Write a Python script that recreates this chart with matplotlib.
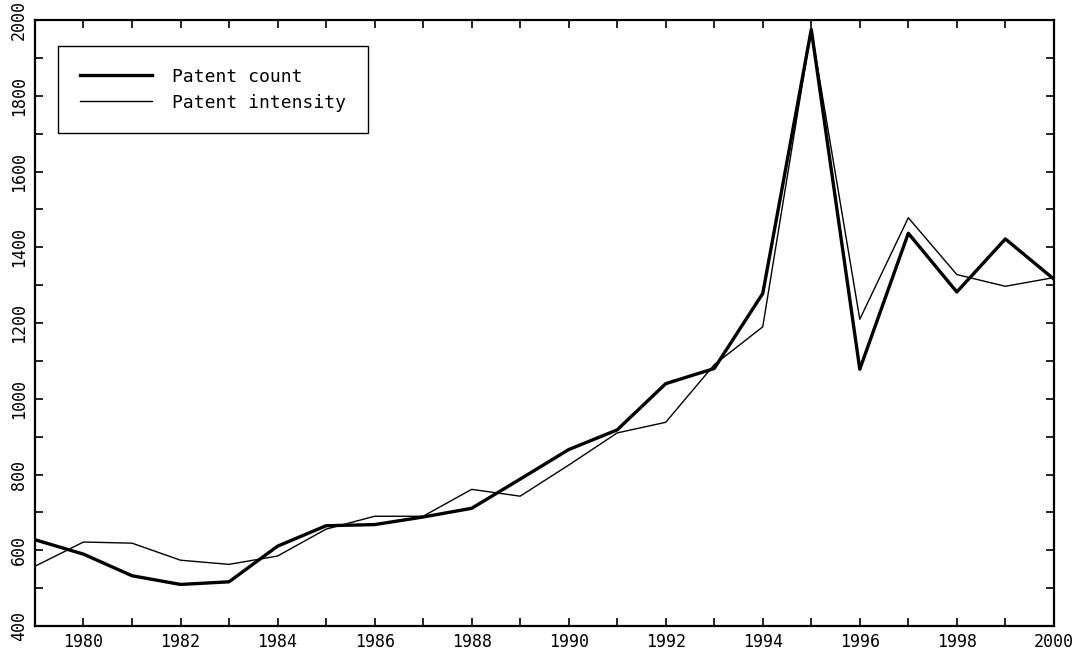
import matplotlib
matplotlib.use("Agg")
import matplotlib.pyplot as plt
from matplotlib.ticker import MultipleLocator

years = list(range(1979, 2001))
patent_count = [628, 590, 533, 510, 517, 611, 665, 668, 688, 711, 788, 866, 918, 1040,
                1080, 1278, 1975, 1078, 1437, 1282, 1422, 1316]
patent_intensity = [558, 622, 619, 574, 563, 585, 656, 690, 690, 761, 743, 825, 910, 938,
                    1090, 1190, 1975, 1210, 1478, 1328, 1297, 1320]

plt.rcParams["font.family"] = ["DejaVu Sans Mono"]

fig = plt.figure(figsize=(10.82, 6.57), dpi=100)
ax = fig.add_axes([0.0323, 0.047, 0.9417, 0.9226])

ax.plot(years, patent_count, color="black", linewidth=2.4, label="Patent count")
ax.plot(years, patent_intensity, color="black", linewidth=1.0, label="Patent intensity")

ax.set_xlim(1979, 2000)
ax.set_ylim(400, 2000)

ax.xaxis.set_major_locator(MultipleLocator(2))
ax.xaxis.set_minor_locator(MultipleLocator(1))
ax.yaxis.set_major_locator(MultipleLocator(200))
ax.yaxis.set_minor_locator(MultipleLocator(100))

ax.tick_params(which="both", direction="in", top=True, right=True, width=1.2)
ax.tick_params(which="major", length=6, labelsize=12, pad=5)
ax.tick_params(which="minor", length=6)
for lbl in ax.get_yticklabels():
    lbl.set_rotation(90)
    lbl.set_va("center")

for sp in ax.spines.values():
    sp.set_linewidth(1.6)

leg = ax.legend(loc="upper left", bbox_to_anchor=(0.014, 0.972), fancybox=False,
                edgecolor="black", fontsize=13, handlelength=4.0, handletextpad=1.1,
                borderpad=1.2, labelspacing=0.45, framealpha=1)
leg.get_frame().set_linewidth(1.0)

fig.savefig("out.png", dpi=100)
